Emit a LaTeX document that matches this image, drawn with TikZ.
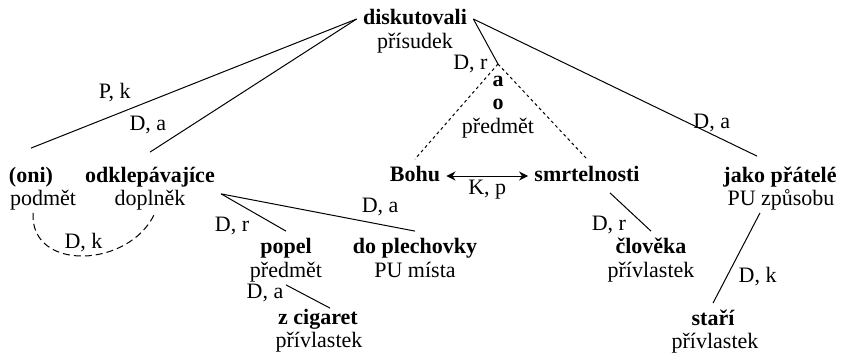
\documentclass[tikz,border=0pt]{standalone}
\usepackage{fontspec}
\setmainfont{Liberation Serif}[Ligatures=TeX]
\usetikzlibrary{arrows.meta, positioning, calc}

\begin{document}
\begin{tikzpicture}[
	x=0.5pt, y=0.5pt,
	font=\rmfamily\fontsize{11}{13}\selectfont,
	word/.style={font=\rmfamily\fontsize{11}{13}\selectfont\bfseries, text height=8pt, text depth=2.5pt, inner xsep=3pt, inner ysep=3pt},
	role/.style={text height=8pt, text depth=2.5pt, inner xsep=3pt, inner ysep=1pt},
	relation/.style={inner sep=2pt},
	edge/.style={draw, line width=0.5pt},
	coordination/.style={draw, line width=0.5pt, dash pattern=on 1.5pt off 1.5pt},
	>={Stealth[length=4.5pt, width=4.5pt]}
	]
	
	\useasboundingbox (0,0) rectangle (842,-354);
	
	% Predicate at the top
	\node[word] (diskutovali) at (415,-19) {diskutovali};
	\node[role] (diskutovali_role) at ($(diskutovali)+(0,-24)$) {přísudek};
	
	% Left branch
	\node[word] (oni) at (31,-177) {(oni)};
	\node[role] (oni_role) at ($(oni)+(12,-23)$) {podmět};
	\node[word] (odklepavajice) at (150,-177) {odklepávajíce};
	\node[role] (odklepavajice_role) at ($(odklepavajice)+(0,-23)$) {doplněk};
	\node[word] (popel) at (286,-248) {popel};
	\node[role] (popel_role) at ($(popel)+(0,-24)$) {předmět};
	\node[word] (z_cigaret) at (318,-319) {z cigaret};
	\node[role] (z_cigaret_role) at ($(z_cigaret)+(1,-23)$) {přívlastek};
	\node[word] (do_plechovky) at (415,-248) {do plechovky};
	\node[role] (do_plechovky_role) at ($(do_plechovky)+(0,-24)$) {PU místa};
	
	% Coordination in the middle
	\coordinate (coordination_apex) at (498,-64);
	\node[word] (coordination_a) at ($(coordination_apex)+(0,-17)$) {a};
	\node[word] (coordination_o) at ($(coordination_a)+(0,-23)$) {o};
	\node[role] (coordination_role) at ($(coordination_o)+(0,-24)$) {předmět};
	\node[word] (bohu) at (415,-176) {Bohu};
	\node[word] (smrtelnosti) at (587,-176) {smrtelnosti};
	\node[word] (cloveka) at (651,-248) {člověka};
	\node[role] (cloveka_role) at ($(cloveka)+(0,-24)$) {přívlastek};
	
	% Right branch
	\node[word] (jako_pratele) at (780,-177) {jako přátelé};
	\node[role] (jako_pratele_role) at ($(jako_pratele)+(1,-23)$) {PU způsobu};
	\node[word] (stari) at (713,-320) {staří};
	\node[role] (stari_role) at ($(stari)+(2,-23)$) {přívlastek};
	
	% Edges from the predicate
	\draw[edge] (diskutovali.west) -- node[relation, pos=0.68, above left] {P, k} ([yshift=6pt]oni.north);
	\draw[edge] (diskutovali.west) -- node[relation, pos=0.9, above left] {D, a} ([yshift=4pt]odklepavajice.north);
	\draw[edge] (diskutovali.east) -- node[relation, pos=1, left=3pt] {D, r} (coordination_apex);
	\draw[edge] (diskutovali.east) -- node[relation, pos=0.76, right] {D, a} ([xshift=-11.5pt, yshift=2pt]jako_pratele.north);
	
	% Coordinated objects
	\draw[coordination] (coordination_apex) -- (bohu.north);
	\draw[coordination] (coordination_apex) -- (smrtelnosti.north);
	\draw[<->, line width=0.5pt] (bohu) -- node[relation, below] {K, p} (smrtelnosti);
	
	% subject and complement
	\draw[edge, dash pattern=on 3.5pt off 2pt] ([xshift=-5pt]oni_role.south) .. controls +(-3,-59.5) and +(-25,-55.5) .. node[relation, pos=0.5, above] {D, k} ([xshift=2.5pt]odklepavajice_role.south);
	
	% Left subtree
	\draw[edge] (odklepavajice.south east) -- node[relation, pos=0.5, below left] {D, r} (popel.north);
	\draw[edge] (odklepavajice.south east) -- node[relation, pos=0.82, above=2pt] {D, a} (do_plechovky.north);
	\draw[edge] (popel_role.south) -- node[relation, pos=0.36, left=7pt] {D, a} ([xshift=6pt, yshift=-3pt]z_cigaret.north);
	
	% Right subtree
	\draw[edge] ([xshift=11.5pt]smrtelnosti.south) -- node[relation, pos=0.5, below left] {D, r} (cloveka.north);
	\draw[edge] ([xshift=-10.5pt]jako_pratele_role.south) -- node[relation, pos=0.55, below right] {D, k} (stari.north);
	
\end{tikzpicture}
\end{document}
